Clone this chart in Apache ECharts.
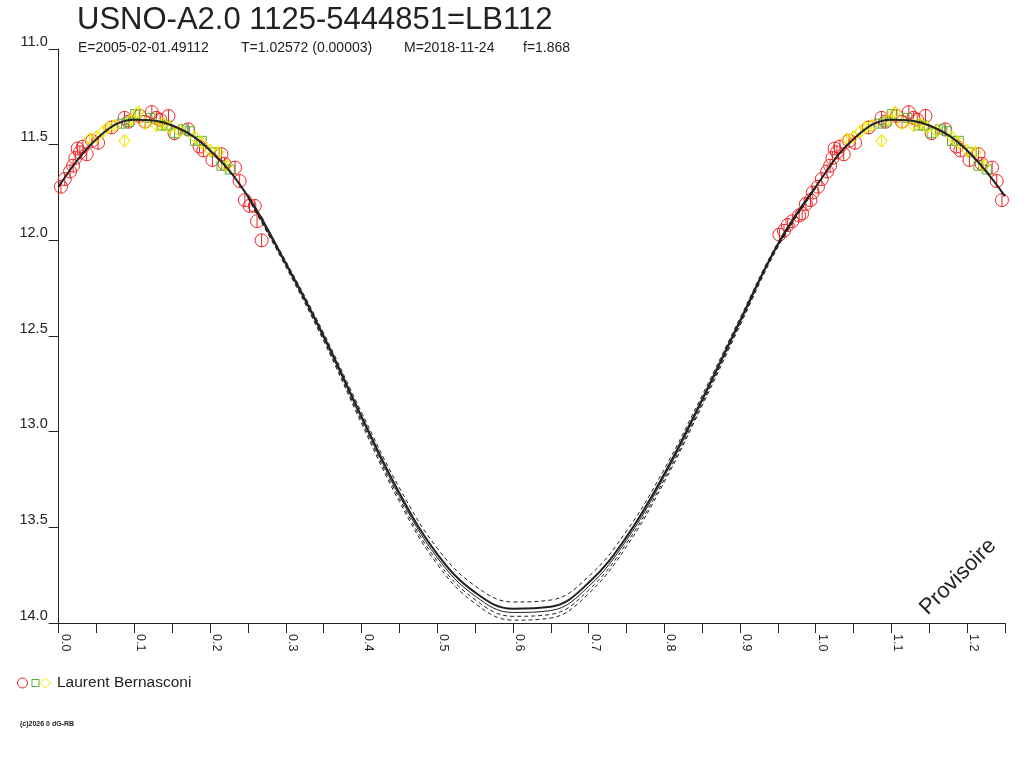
<!DOCTYPE html>
<html>
<head>
<meta charset="utf-8">
<script src="https://cdn.jsdelivr.net/npm/echarts@6/dist/echarts.min.js"></script>
<style>
  html, body { margin: 0; padding: 0; background: #fff; }
  #chart { width: 1024px; height: 768px; }
</style>
</head>
<body>
<div id="chart"></div>
<script>
// fitted light curve, phase / magnitude
const curvePhase = [0, 0.05, 0.1, 0.15, 0.2, 0.25, 0.3, 0.35, 0.4, 0.45, 0.5, 0.55, 0.6, 0.65, 0.7, 0.75, 0.8, 0.85, 0.9, 0.95, 1.0, 1.05, 1.1, 1.15, 1.2, 1.25];
const curveMag = [11.72, 11.47, 11.37, 11.40, 11.53, 11.77, 12.12, 12.50, 12.92, 13.32, 13.64, 13.84, 13.925, 13.915, 13.79, 13.55, 13.22, 12.83, 12.42, 12.02, 11.72, 11.47, 11.37, 11.40, 11.53, 11.77];

// envelope curves (spread towards the minimum)
const envPhase = [0.25, 0.3, 0.35, 0.4, 0.45, 0.5, 0.55, 0.6, 0.65, 0.7, 0.75, 0.8, 0.85, 0.9, 0.95, 1.0];
const envUpper = [11.764, 12.109, 12.485, 12.899, 13.293, 13.609, 13.806, 13.89, 13.88, 13.757, 13.52, 13.195, 12.81, 12.406, 12.011, 11.715];
const envSolid = [11.773, 12.126, 12.509, 12.932, 13.335, 13.658, 13.859, 13.945, 13.935, 13.809, 13.567, 13.234, 12.841, 12.428, 12.025, 11.723];
const envLower1 = [11.776, 12.132, 12.518, 12.944, 13.35, 13.676, 13.878, 13.965, 13.955, 13.828, 13.584, 13.249, 12.853, 12.436, 12.03, 11.726];
const envLower2 = [11.78, 12.138, 12.526, 12.957, 13.366, 13.693, 13.898, 13.985, 13.974, 13.846, 13.601, 13.263, 12.864, 12.445, 12.036, 11.728];

// observations (phase in [0,1))
const redPhase = [0.003, 0.008, 0.015, 0.019, 0.022, 0.028, 0.037, 0.025, 0.032, 0.044, 0.052, 0.070, 0.087, 0.092, 0.107, 0.114, 0.123, 0.129, 0.134, 0.145, 0.153, 0.171, 0.186, 0.191, 0.203, 0.215, 0.219, 0.233, 0.239, 0.246, 0.252, 0.259, 0.262, 0.268,
  0.952, 0.958, 0.963, 0.969, 0.978, 0.982, 0.987, 0.993, 0.996];
const redMag = [11.72, 11.68, 11.64, 11.61, 11.57, 11.54, 11.55, 11.52, 11.51, 11.48, 11.49, 11.41, 11.36, 11.38, 11.35, 11.38, 11.33, 11.36, 11.37, 11.35, 11.44, 11.42, 11.51, 11.53, 11.58, 11.55, 11.60, 11.62, 11.69, 11.79, 11.82, 11.82, 11.90, 12.00,
  11.97, 11.95, 11.92, 11.90, 11.87, 11.86, 11.81, 11.79, 11.75];

const greenPhase = [0.083, 0.093, 0.101, 0.121, 0.136, 0.143, 0.153, 0.164, 0.173, 0.180, 0.189, 0.206, 0.215, 0.226];
const greenMag = [11.39, 11.38, 11.34, 11.36, 11.40, 11.40, 11.44, 11.42, 11.43, 11.48, 11.48, 11.54, 11.61, 11.63];

const yellowPhase = [0.041, 0.050, 0.059, 0.065, 0.074, 0.087, 0.096, 0.105, 0.114, 0.129, 0.138, 0.147, 0.160, 0.180, 0.189, 0.200, 0.211, 0.222];
const yellowMag = [11.47, 11.46, 11.43, 11.41, 11.40, 11.48, 11.37, 11.33, 11.39, 11.40, 11.39, 11.41, 11.43, 11.46, 11.49, 11.53, 11.54, 11.61];

const xTicks = ["0.0", "0.1", "0.2", "0.3", "0.4", "0.5", "0.6", "0.7", "0.8", "0.9", "1.0", "1.1", "1.2"];
const infoParts = ["E=2005-02-01.49112", "T=1.02572 (0.00003)", "M=2018-11-24", "f=1.868"];

const FONT = "Liberation Sans, Arial, sans-serif";
const INK = "#222";

// phase-folded points are drawn once more one cycle later
function fold(phases, mags) {
    const out = [];
    phases.forEach((p, i) => {
        out.push([p, mags[i]]);
        if (p + 1 <= 1.25) out.push([p + 1, mags[i]]);
    });
    return out;
}
const pair = (xs, ys) => xs.map((x, i) => [x, ys[i]]);

const circleSym = "path://M10,0A10,10,0,1,1,10,20A10,10,0,1,1,10,0ZM10,0L10,20";
const squareSym = "path://M0,0L20,0L20,20L0,20ZM10,0L10,20";
const diamondSym = "path://M10,0L20,10L10,20L0,10ZM10,0L10,20";

function obs(name, data, symbol, size, color, z) {
    return {
        name, type: "scatter", data, symbol, symbolSize: size, z,
        itemStyle: { color: "rgba(0,0,0,0)", borderColor: color, borderWidth: 1, opacity: 1 },
        silent: true
    };
}
function curve(data, dashed, width) {
    return {
        type: "line", data, smooth: 0.4, symbol: "none", z: 10, silent: true,
        lineStyle: { color: INK, width: width || 1, type: dashed ? [4, 3] : "solid" }
    };
}

// header line under the title, one piece per quantity
const infoX = [78, 241, 404, 523];
const infoTexts = infoParts.map((t, i) => ({
    type: "text", left: infoX[i], top: 41,
    style: { text: t, font: "14px " + FONT, fill: INK }
}));

const chart = echarts.init(document.getElementById("chart"));
chart.setOption({
    animation: false,
    backgroundColor: "#fff",
    title: {
        text: "USNO-A2.0 1125-5444851=LB112",
        left: 77, top: 5, padding: 0,
        textStyle: { fontFamily: FONT, fontSize: 31, fontWeight: "normal", color: INK }
    },
    grid: { left: 58.7, right: 19, top: 49, bottom: 145 },
    xAxis: {
        type: "value", min: 0, max: 1.25, interval: 0.05,
        axisLine: { lineStyle: { color: INK, width: 1 } },
        axisTick: { length: 10, lineStyle: { color: INK } },
        splitLine: { show: false },
        axisLabel: {
            rotate: -90, margin: 11, verticalAlign: "bottom",
            fontFamily: FONT, fontSize: 12.5, color: INK,
            formatter: v => {
                const k = Math.round(v * 100);
                return k % 10 === 0 ? xTicks[k / 10] : "";
            }
        }
    },
    yAxis: {
        type: "value", min: 11, max: 14, interval: 0.5, inverse: true,
        axisLine: { show: true, lineStyle: { color: INK, width: 1 } },
        axisTick: { show: true, length: 10, lineStyle: { color: INK } },
        splitLine: { show: false },
        axisLabel: {
            margin: 11, verticalAlign: "bottom",
            fontFamily: FONT, fontSize: 14.5, color: INK,
            formatter: v => v.toFixed(1)
        }
    },
    series: [
        obs("red", fold(redPhase, redMag), circleSym, 13, "#ee2525", 2),
        obs("green", fold(greenPhase, greenMag), squareSym, 9, "#55b035", 3),
        obs("yellow", fold(yellowPhase, yellowMag), diamondSym, [11, 12], "#f2e600", 4),
        curve(pair(curvePhase, curveMag), false, 2),
        curve(pair(envPhase, envSolid), false, 1),
        curve(pair(envPhase, envUpper), true),
        curve(pair(envPhase, envLower1), true),
        curve(pair(envPhase, envLower2), true)
    ],
    graphic: infoTexts.concat([
        {
            type: "text", x: 958, y: 577, rotation: Math.PI / 4,
            style: { text: "Provisoire", font: "22px " + FONT, fill: INK, align: "center", verticalAlign: "middle" }
        },
        { type: "circle", shape: { cx: 22.5, cy: 683, r: 5 }, style: { fill: "none", stroke: "#ee2525", lineWidth: 1 } },
        { type: "rect", shape: { x: 32, y: 679.5, width: 7, height: 7 }, style: { fill: "none", stroke: "#55b035", lineWidth: 1 } },
        { type: "polygon", shape: { points: [[45.5, 678], [50.5, 683], [45.5, 688], [40.5, 683]] }, style: { fill: "none", stroke: "#f2e600", lineWidth: 1 } },
        {
            type: "text", left: 57, top: 675,
            style: { text: "Laurent Bernasconi", font: "15.5px " + FONT, fill: INK }
        },
        {
            type: "text", left: 20, top: 721,
            style: { text: "(c)2026 0 dG-RB", font: "bold 7px " + FONT, fill: INK }
        }
    ])
});
</script>
</body>
</html>
